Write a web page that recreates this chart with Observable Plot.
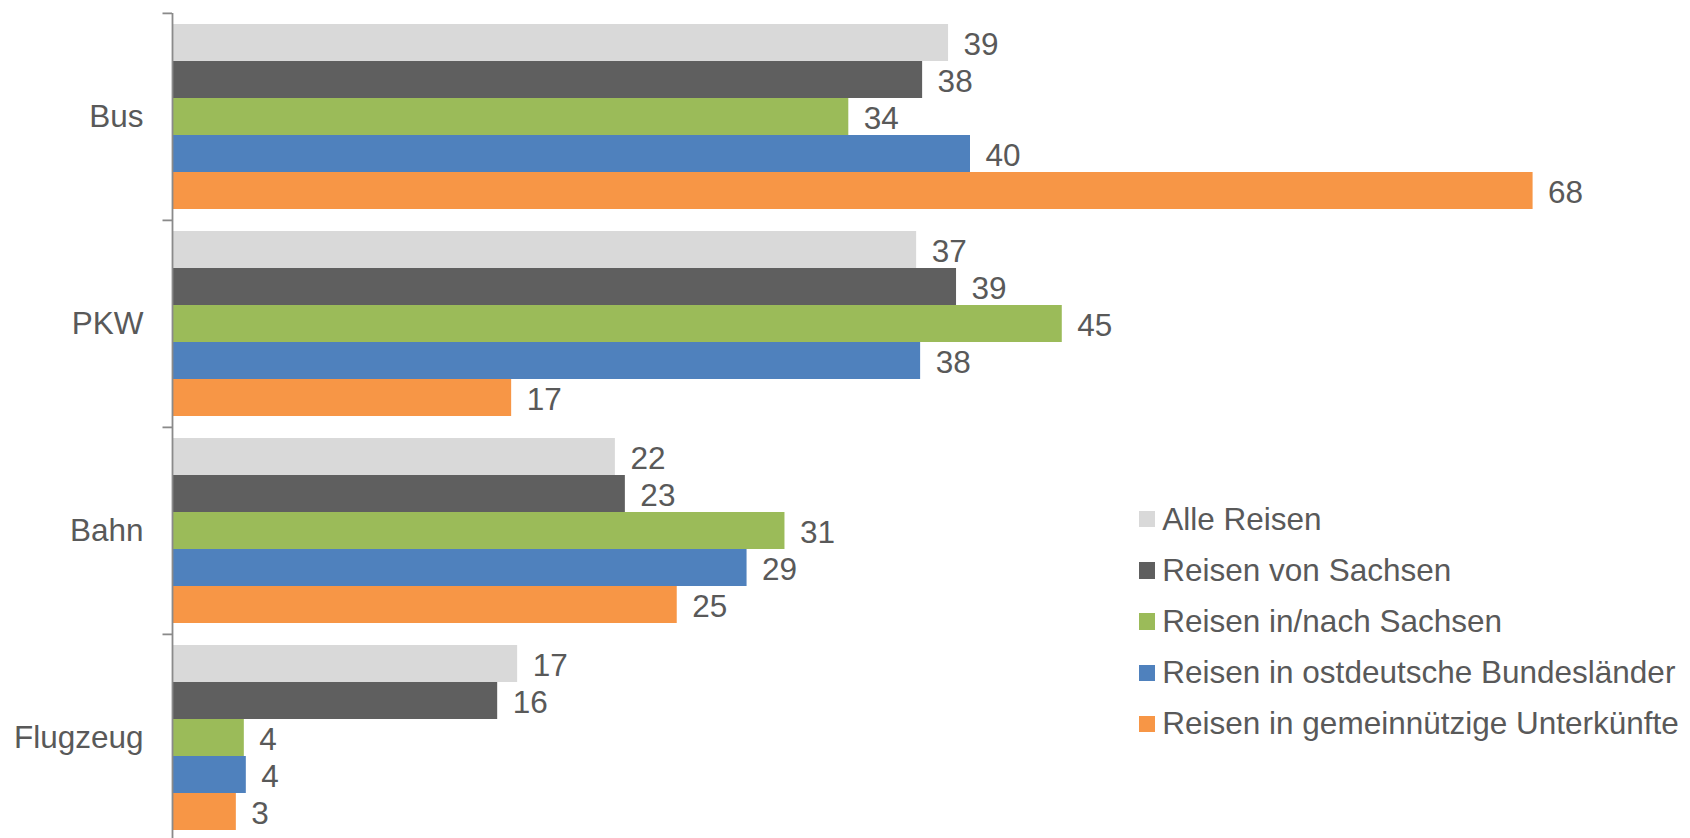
<!DOCTYPE html>
<html>
<head>
<meta charset="utf-8">
<script src="https://cdn.jsdelivr.net/npm/d3@7"></script>
<script src="https://cdn.jsdelivr.net/npm/@observablehq/plot@0.6"></script>
<style>
  html, body { margin: 0; padding: 0; background: #fff; overflow: hidden; }
  #wrap { position: relative; width: 1690px; height: 838px; overflow: hidden; }
  #legend { position: absolute; left: 1138.5px; top: 493.6px; font-family: "Liberation Sans", Arial, sans-serif; font-size: 31.5px; color: #595959; }
  #legend .row { display: flex; align-items: center; height: 51.2px; white-space: nowrap; }
  #legend .sw { width: 16.4px; height: 16.4px; margin-right: 7.4px; flex: none; }
</style>
</head>
<body>
<div id="wrap"></div>
<script>
const categories = ["Bus", "PKW", "Bahn", "Flugzeug"];
const seriesNames = [
  "Alle Reisen",
  "Reisen von Sachsen",
  "Reisen in/nach Sachsen",
  "Reisen in ostdeutsche Bundesländer",
  "Reisen in gemeinnützige Unterkünfte"
];
// values per series, in category order (Bus, PKW, Bahn, Flugzeug)
const alleReisen      = [38.9, 37.3, 22.2, 17.3];
const vonSachsen      = [37.6, 39.3, 22.7, 16.3];
const inNachSachsen   = [33.9, 44.6, 30.7, 3.6];
const ostdeutsche     = [40.0, 37.5, 28.8, 3.7];
const gemeinnuetzige  = [68.2, 17.0, 25.3, 3.2];
const seriesValues = [alleReisen, vonSachsen, inNachSachsen, ostdeutsche, gemeinnuetzige];
const colors = ["#d9d9d9", "#5f5f5f", "#9bbb59", "#4f81bd", "#f79646"];

const table = [];
categories.forEach((cat, i) => {
  seriesNames.forEach((s, j) => {
    table.push({cat, series: s, value: seriesValues[j][i]});
  });
});

const textColor = "#595959";
const axisColor = "#8a8a8a";
const fontSize = 31.5;
const H = 841, marginTop = 12, marginBottom = 0;
const step = (H - marginTop - marginBottom) / categories.length;

const chart = Plot.plot({
  width: 1690,
  height: H,
  marginTop,
  marginBottom,
  marginLeft: 172,
  marginRight: 1.8,
  style: {fontFamily: "Liberation Sans, Arial, sans-serif", fontSize: fontSize + "px", color: textColor, background: "#fff"},
  x: {domain: [0, 76], axis: null},
  y: {domain: seriesNames, paddingInner: 0, paddingOuter: 0.24, axis: null},
  fy: {domain: categories, padding: 0},
  color: {domain: seriesNames, range: colors},
  marks: [
    Plot.barX(table, {fy: "cat", y: "series", x: "value", fill: "series"}),
    Plot.text(table, {fy: "cat", y: "series", x: "value", text: d => String(Math.round(d.value)), textAnchor: "start", dx: 15, dy: 2, fill: textColor, fontSize}),
    Plot.ruleX([0], {stroke: axisColor, strokeWidth: 1.8}),
    Plot.ruleY(categories, {fy: d => d, y: null, x1: 0, x2: 0, insetLeft: -9.5, dy: -step / 2, stroke: axisColor, strokeWidth: 1.8}),
    Plot.axisFy({anchor: "left", tickSize: 0, tickPadding: 29, label: null, fontSize, color: textColor})
  ]
});

const wrap = document.getElementById("wrap");
wrap.appendChild(chart);

const legend = document.createElement("div");
legend.id = "legend";
seriesNames.forEach((s, j) => {
  const row = document.createElement("div");
  row.className = "row";
  const sw = document.createElement("span");
  sw.className = "sw";
  sw.style.background = colors[j];
  const label = document.createElement("span");
  label.textContent = s;
  row.appendChild(sw);
  row.appendChild(label);
  legend.appendChild(row);
});
wrap.appendChild(legend);
</script>
</body>
</html>
